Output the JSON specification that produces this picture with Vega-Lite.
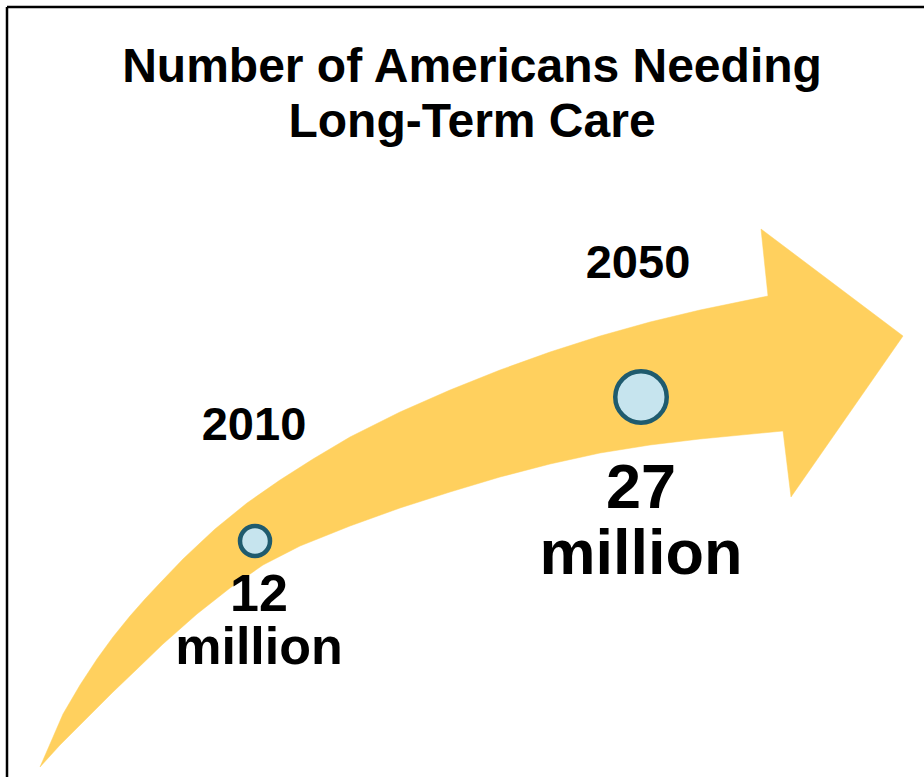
{
  "$schema": "https://vega.github.io/schema/vega-lite/v6.json",
  "width": 924,
  "height": 777,
  "autosize": "none",
  "padding": 0,
  "background": "white",
  "config": {"view": {"stroke": null}},
  "title": {
    "text": ["Number of Americans Needing", "Long-Term Care"],
    "font": "Liberation Sans",
    "fontWeight": "bold",
    "fontSize": 48,
    "lineHeight": 55,
    "color": "black",
    "anchor": "middle",
    "frame": "group",
    "baseline": "alphabetic",
    "offset": -185,
    "dx": 10
  },
  "datasets": {
    "arrow": [
      {"i": 1, "px": 40, "py": 767},
      {"i": 2, "px": 50, "py": 744},
      {"i": 3, "px": 63, "py": 714},
      {"i": 4, "px": 80, "py": 685},
      {"i": 5, "px": 97, "py": 659},
      {"i": 6, "px": 113, "py": 637},
      {"i": 7, "px": 130, "py": 616},
      {"i": 8, "px": 145, "py": 599},
      {"i": 9, "px": 160, "py": 583},
      {"i": 10, "px": 183, "py": 559},
      {"i": 11, "px": 200, "py": 543},
      {"i": 12, "px": 215, "py": 529},
      {"i": 13, "px": 247, "py": 503},
      {"i": 14, "px": 280, "py": 480},
      {"i": 15, "px": 313, "py": 459},
      {"i": 16, "px": 350, "py": 437},
      {"i": 17, "px": 400, "py": 412},
      {"i": 18, "px": 450, "py": 390},
      {"i": 19, "px": 500, "py": 370},
      {"i": 20, "px": 550, "py": 352},
      {"i": 21, "px": 600, "py": 336},
      {"i": 22, "px": 650, "py": 322},
      {"i": 23, "px": 700, "py": 310},
      {"i": 24, "px": 768, "py": 296},
      {"i": 25, "px": 761, "py": 229},
      {"i": 26, "px": 903, "py": 336},
      {"i": 27, "px": 791, "py": 497},
      {"i": 28, "px": 783, "py": 431},
      {"i": 29, "px": 700, "py": 439},
      {"i": 30, "px": 650, "py": 445},
      {"i": 31, "px": 600, "py": 453},
      {"i": 32, "px": 550, "py": 464},
      {"i": 33, "px": 500, "py": 477},
      {"i": 34, "px": 450, "py": 492},
      {"i": 35, "px": 400, "py": 508},
      {"i": 36, "px": 350, "py": 526},
      {"i": 37, "px": 300, "py": 546},
      {"i": 38, "px": 263, "py": 565},
      {"i": 39, "px": 230, "py": 588},
      {"i": 40, "px": 197, "py": 614},
      {"i": 41, "px": 163, "py": 644},
      {"i": 42, "px": 135, "py": 671},
      {"i": 43, "px": 113, "py": 692},
      {"i": 44, "px": 85, "py": 720},
      {"i": 45, "px": 60, "py": 745}
    ],
    "frame": [
      {"fx": 7, "fy": 7, "fx2": 924, "fy2": 7},
      {"fx": 7, "fy": 7, "fx2": 7, "fy2": 777}
    ],
    "points": [
      {"year": 2010, "value": 12, "amount": "12 million", "cx": 255, "cy": 541},
      {"year": 2050, "value": 27, "amount": "27 million", "cx": 641, "cy": 397}
    ]
  },
  "layer": [
    {
      "data": {"name": "frame"},
      "mark": {"type": "rule", "color": "black", "strokeWidth": 2.5},
      "encoding": {
        "x": {"field": "fx", "type": "quantitative", "scale": {"domain": [0, 924], "nice": false, "zero": false}, "axis": null},
        "y": {"field": "fy", "type": "quantitative", "scale": {"domain": [0, 777], "nice": false, "zero": false, "reverse": true}, "axis": null},
        "x2": {"field": "fx2"},
        "y2": {"field": "fy2"}
      }
    },
    {
      "data": {"name": "arrow"},
      "mark": {"type": "line", "fill": "#FFD05E", "stroke": "#FFD05E", "strokeWidth": 0.5, "interpolate": "linear-closed"},
      "encoding": {
        "x": {"field": "px", "type": "quantitative"},
        "y": {"field": "py", "type": "quantitative"},
        "order": {"field": "i", "type": "quantitative"}
      }
    },
    {
      "data": {"name": "points"},
      "mark": {"type": "point", "shape": "circle", "filled": true, "fill": "#C6E4EE", "stroke": "#1F5B6E", "strokeWidth": 4.5, "opacity": 1},
      "encoding": {
        "x": {"field": "cx", "type": "quantitative"},
        "y": {"field": "cy", "type": "quantitative"},
        "size": {"field": "value", "type": "quantitative", "scale": {"domain": [12, 27], "range": [900, 2650]}, "legend": null}
      }
    },
    {
      "data": {"name": "points"},
      "transform": [{"filter": "datum.year == 2010"}],
      "layer": [
        {
          "mark": {"type": "text", "font": "Liberation Sans", "fontWeight": "bold", "fontSize": 47, "color": "black", "baseline": "alphabetic", "align": "center", "dx": -1, "dy": -101},
          "encoding": {
            "x": {"field": "cx", "type": "quantitative"},
            "y": {"field": "cy", "type": "quantitative"},
            "text": {"field": "year", "type": "nominal"}
          }
        },
        {
          "mark": {"type": "text", "font": "Liberation Sans", "fontWeight": "bold", "fontSize": 52, "lineHeight": 53, "lineBreak": " ", "color": "black", "baseline": "alphabetic", "align": "center", "dx": 4, "dy": 70},
          "encoding": {
            "x": {"field": "cx", "type": "quantitative"},
            "y": {"field": "cy", "type": "quantitative"},
            "text": {"field": "amount", "type": "nominal"}
          }
        }
      ]
    },
    {
      "data": {"name": "points"},
      "transform": [{"filter": "datum.year == 2050"}],
      "layer": [
        {
          "mark": {"type": "text", "font": "Liberation Sans", "fontWeight": "bold", "fontSize": 47, "color": "black", "baseline": "alphabetic", "align": "center", "dx": -3, "dy": -119},
          "encoding": {
            "x": {"field": "cx", "type": "quantitative"},
            "y": {"field": "cy", "type": "quantitative"},
            "text": {"field": "year", "type": "nominal"}
          }
        },
        {
          "mark": {"type": "text", "font": "Liberation Sans", "fontWeight": "bold", "fontSize": 63, "lineHeight": 66, "lineBreak": " ", "color": "black", "baseline": "alphabetic", "align": "center", "dx": 0, "dy": 111},
          "encoding": {
            "x": {"field": "cx", "type": "quantitative"},
            "y": {"field": "cy", "type": "quantitative"},
            "text": {"field": "amount", "type": "nominal"}
          }
        }
      ]
    }
  ]
}
